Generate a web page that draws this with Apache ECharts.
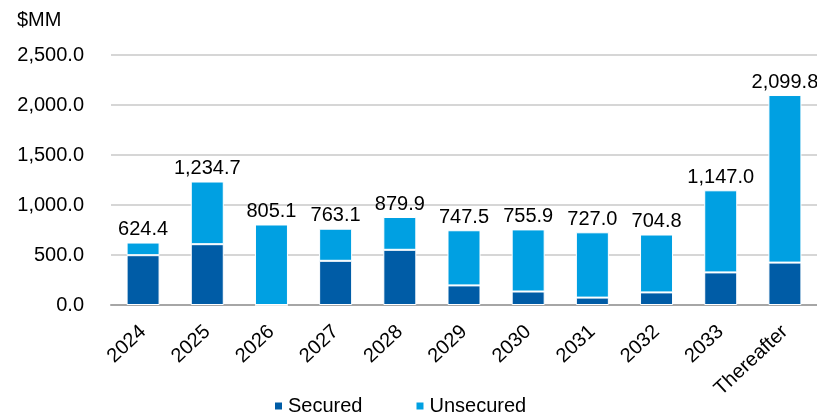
<!DOCTYPE html>
<html>
<head>
<meta charset="utf-8">
<script src="https://cdn.jsdelivr.net/npm/echarts@6/dist/echarts.min.js"></script>
<style>
  html, body { margin: 0; padding: 0; background: #fff; }
  #chart { width: 817px; height: 414px; }
</style>
</head>
<body>
<div id="chart"></div>
<script>
// Debt maturities by year, $MM
const categories = ['2024', '2025', '2026', '2027', '2028', '2029', '2030', '2031', '2032', '2033', 'Thereafter'];
const totals = [624.4, 1234.7, 805.1, 763.1, 879.9, 747.5, 755.9, 727.0, 704.8, 1147.0, 2099.8];
const secured = [498, 608, 0, 442, 552, 196, 135, 74, 126, 326, 424];
const yTicks = [0, 500, 1000, 1500, 2000, 2500];

// Unsecured portion is the remainder of each year's total
const unsecured = totals.map((t, i) => +(t - secured[i]).toFixed(1));

const fmt = v => v.toLocaleString('en-US', { minimumFractionDigits: 1, maximumFractionDigits: 1 });

const FONT = 'Liberation Sans, Arial, sans-serif';
const chart = echarts.init(document.getElementById('chart'), null, { renderer: 'canvas' });

chart.setOption({
  animation: false,
  textStyle: { fontFamily: FONT },
  title: {
    text: '$MM',
    left: 12,
    top: 5,
    textStyle: { fontSize: 20, fontWeight: 'normal', color: '#000', fontFamily: FONT }
  },
  legend: {
    top: 391,
    left: 268,
    itemWidth: 9,
    itemHeight: 9,
    itemGap: 52,
    icon: 'rect',
    textStyle: { fontSize: 20, color: '#000', fontFamily: FONT },
    data: ['Secured', 'Unsecured']
  },
  grid: { left: 111, right: 0, top: 55, bottom: 109, containLabel: false },
  xAxis: {
    type: 'category',
    data: categories,
    axisLine: { lineStyle: { color: '#a6a6a6', width: 2 } },
    axisTick: { show: false },
    axisLabel: {
      rotate: 43,
      interval: 0,
      margin: 24,
      fontSize: 20,
      color: '#000',
      fontFamily: FONT
    }
  },
  yAxis: {
    type: 'value',
    min: yTicks[0],
    max: yTicks[yTicks.length - 1],
    interval: 500,
    axisLine: { show: false },
    axisTick: { show: false },
    splitLine: { lineStyle: { color: '#c8c8c8', width: 1.5 } },
    axisLabel: {
      margin: 27,
      fontSize: 20,
      color: '#000',
      fontFamily: FONT,
      formatter: v => fmt(v)
    }
  },
  series: [
    {
      name: 'Secured',
      type: 'bar',
      stack: 'debt',
      barWidth: 33,
      data: secured,
      itemStyle: { color: '#005ca6', borderColor: '#ffffff', borderWidth: 1 }
    },
    {
      name: 'Unsecured',
      type: 'bar',
      stack: 'debt',
      barWidth: 33,
      data: unsecured,
      itemStyle: { color: '#00a0e2', borderColor: '#ffffff', borderWidth: 1 },
      label: {
        show: true,
        position: 'top',
        distance: 3,
        fontSize: 20,
        color: '#000',
        fontFamily: FONT,
        formatter: p => fmt(totals[p.dataIndex])
      }
    }
  ]
});
</script>
</body>
</html>
